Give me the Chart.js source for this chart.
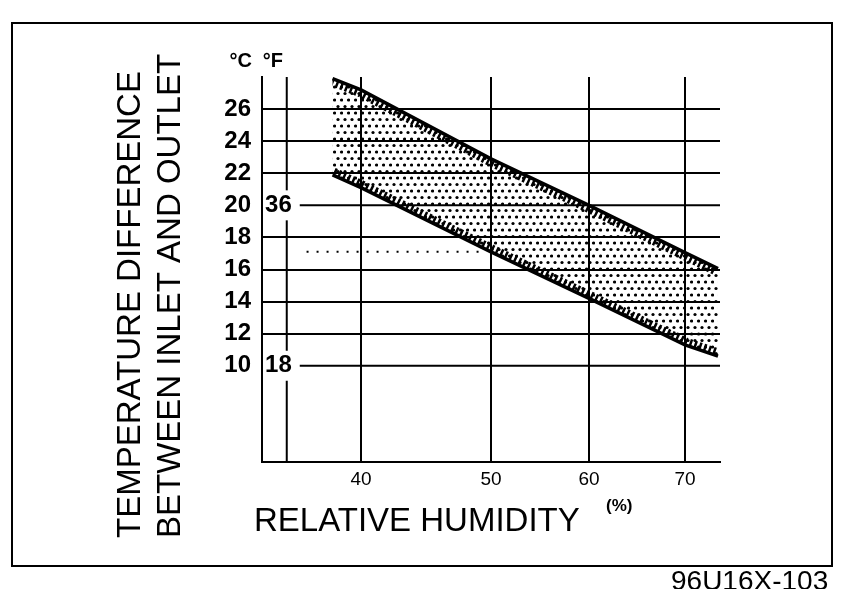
<!DOCTYPE html>
<html>
<head>
<meta charset="utf-8">
<script src="https://cdn.jsdelivr.net/npm/chart.js@4.4.0/dist/chart.umd.min.js"></script>
<style>
  html, body { margin: 0; padding: 0; background: #fff; }
  #wrap { width: 843px; height: 589px; position: relative; }
</style>
</head>
<body>
<div id="wrap"><canvas id="chart"></canvas></div>
<script>
const humidityTicks = [40, 50, 60, 70];
const tempTicksC = [10, 12, 14, 16, 18, 20, 22, 24, 26];
const tempTicksF = [18, 36];
const bandHumidity = [37.7, 40, 50, 60, 70, 73.3];
const bandUpper = [27.9, 27.2, 22.9, 20.0, 17.05, 16.05];
const bandLower = [21.9, 21.1, 17.1, 14.2, 11.3, 10.6];
const guideHumidity = [35.6, 49.5];
const guideTemp = [17.1, 17.1];
const fahrenheitAxisAt = 34;

// the printed humidity axis is not evenly spaced, so the scale bends at each grid line
const humidityWarp = [[32, 0], [40, 0.2162], [50, 0.5], [60, 0.714], [70, 0.9236], [73.5, 1]];

function warp(v) {
  const k = humidityWarp;
  let i = 0;
  while (i < k.length - 2 && v > k[i + 1][0]) i++;
  const [v0, d0] = k[i], [v1, d1] = k[i + 1];
  return d0 + (v - v0) / (v1 - v0) * (d1 - d0);
}
function unwarp(d) {
  const k = humidityWarp;
  let i = 0;
  while (i < k.length - 2 && d > k[i + 1][1]) i++;
  const [v0, d0] = k[i], [v1, d1] = k[i + 1];
  return v0 + (d - d0) / (d1 - d0) * (v1 - v0);
}

class WarpedScale extends Chart.LinearScale {
  getPixelForValue(value) {
    return value === null ? NaN : this.getPixelForDecimal(warp(value));
  }
  getValueForPixel(pixel) {
    return unwarp(this.getDecimalForPixel(pixel));
  }
}
WarpedScale.id = 'warped';
WarpedScale.defaults = Chart.LinearScale.defaults;
Chart.register(WarpedScale);

const FONT = '"Liberation Sans", Arial, Helvetica, sans-serif';
Chart.defaults.font.family = FONT;
Chart.defaults.color = '#000';

// stipple for the band
const tile = document.createElement('canvas');
tile.width = 7;
tile.height = 13;
const tc = tile.getContext('2d');
tc.fillStyle = '#000';
[[2, 2.5], [5.5, 9]].forEach(([cx, cy]) => {
  tc.beginPath();
  tc.arc(cx, cy, 1.6, 0, Math.PI * 2);
  tc.fill();
});
const dots = tc.createPattern(tile, 'repeat');

const pts = (xs, ys) => xs.map((x, i) => ({ x, y: ys[i] }));

const decor = {
  id: 'decor',
  beforeDraw(chart) {
    const ctx = chart.ctx;
    ctx.save();
    ctx.fillStyle = '#fff';
    ctx.fillRect(0, 0, chart.width, chart.height);
    ctx.strokeStyle = '#000';
    ctx.lineWidth = 2;
    ctx.strokeRect(12, 23, 820, 543);
    ctx.restore();
  },
  beforeDatasetsDraw(chart) {
    const { ctx, chartArea, scales: { x, y } } = chart;
    const fx = x.getPixelForValue(fahrenheitAxisAt);
    ctx.save();
    ctx.strokeStyle = '#000';
    ctx.lineWidth = 2;
    ctx.beginPath();
    ctx.moveTo(fx, chartArea.top);
    ctx.lineTo(fx, chartArea.bottom);
    ctx.stroke();
    tempTicksF.forEach(f => {
      const py = y.getPixelForValue(f / 1.8);
      ctx.beginPath();
      ctx.moveTo(fx + 13, py);
      ctx.lineTo(chartArea.right, py);
      ctx.stroke();
      ctx.fillStyle = '#fff';
      ctx.fillRect(fx - 22, py - 15, 28, 30);
      ctx.fillStyle = '#000';
      ctx.font = 'bold 24px ' + FONT;
      ctx.textAlign = 'right';
      ctx.textBaseline = 'middle';
      ctx.fillText(String(f), fx + 5, py);
    });
    ctx.restore();
  },
  afterDatasetsDraw(chart) {
    const ctx = chart.ctx;
    const up = chart.getDatasetMeta(0).data;
    const lo = chart.getDatasetMeta(1).data;

    // hatching along the inner side of both edges
    ctx.save();
    ctx.beginPath();
    up.forEach((p, i) => i ? ctx.lineTo(p.x, p.y) : ctx.moveTo(p.x, p.y));
    lo.slice().reverse().forEach(p => ctx.lineTo(p.x, p.y));
    ctx.closePath();
    ctx.clip();
    ctx.strokeStyle = '#000';
    ctx.lineWidth = 15;
    ctx.setLineDash([2.5, 2.5]);
    [up, lo].forEach(line => {
      ctx.beginPath();
      line.forEach((p, i) => i ? ctx.lineTo(p.x, p.y) : ctx.moveTo(p.x, p.y));
      ctx.stroke();
    });
    ctx.restore();

    ctx.save();
    ctx.fillStyle = '#000';
    ctx.textAlign = 'right';
    ctx.textBaseline = 'alphabetic';
    ctx.font = 'bold 20px ' + FONT;
    ctx.fillText('°C', 252, 67);
    ctx.fillText('°F', 283, 67);

    ctx.textAlign = 'left';
    ctx.font = '33px ' + FONT;
    ctx.fillText('RELATIVE HUMIDITY', 254, 531);
    ctx.font = 'bold 17px ' + FONT;
    ctx.fillText('(%)', 606, 511);

    ctx.font = '33px ' + FONT;
    [['TEMPERATURE DIFFERENCE', 140], ['BETWEEN INLET AND OUTLET', 180]].forEach(([t, bx]) => {
      ctx.save();
      ctx.translate(bx, 538);
      ctx.rotate(-Math.PI / 2);
      ctx.fillText(t, 0, 0);
      ctx.restore();
    });

    ctx.font = '28px ' + FONT;
    ctx.fillText('96U16X-103', 671, 590);
    ctx.restore();
  }
};

new Chart(document.getElementById('chart'), {
  type: 'line',
  data: {
    datasets: [
      {
        data: pts(bandHumidity, bandUpper),
        borderColor: '#000',
        borderWidth: 3.5,
        pointRadius: 0,
        tension: 0,
        fill: '+1',
        backgroundColor: dots
      },
      {
        data: pts(bandHumidity, bandLower),
        borderColor: '#000',
        borderWidth: 3.5,
        pointRadius: 0,
        tension: 0,
        fill: false
      },
      {
        data: pts(guideHumidity, guideTemp),
        borderColor: '#000',
        borderWidth: 2,
        borderDash: [2, 8],
        pointRadius: 0,
        fill: false
      }
    ]
  },
  options: {
    responsive: true,
    maintainAspectRatio: false,
    animation: false,
    layout: { padding: { left: 0, right: 123, top: 77, bottom: 0 } },
    plugins: { legend: { display: false }, tooltip: { enabled: false } },
    scales: {
      x: {
        type: 'warped',
        min: 32,
        max: 73.5,
        afterBuildTicks: s => { s.ticks = humidityTicks.map(v => ({ value: v })); },
        afterFit: s => { s.height = 127; },
        grid: { color: '#000', lineWidth: 2, drawTicks: false },
        border: { display: true, color: '#000', width: 2 },
        ticks: { font: { size: 19 }, padding: 6, color: '#000' }
      },
      y: {
        type: 'linear',
        min: 4,
        max: 28,
        afterBuildTicks: s => { s.ticks = tempTicksC.map(v => ({ value: v })); },
        afterFit: s => { s.width = 262; },
        grid: {
          color: c => (c.tick && tempTicksF.includes(Math.round(c.tick.value * 1.8))) ? 'rgba(0,0,0,0)' : '#000',
          lineWidth: 2,
          drawTicks: false
        },
        border: { display: true, color: '#000', width: 2 },
        ticks: { font: { size: 24, weight: 'bold' }, padding: 11, color: '#000' }
      }
    }
  },
  plugins: [decor]
});
</script>
</body>
</html>
